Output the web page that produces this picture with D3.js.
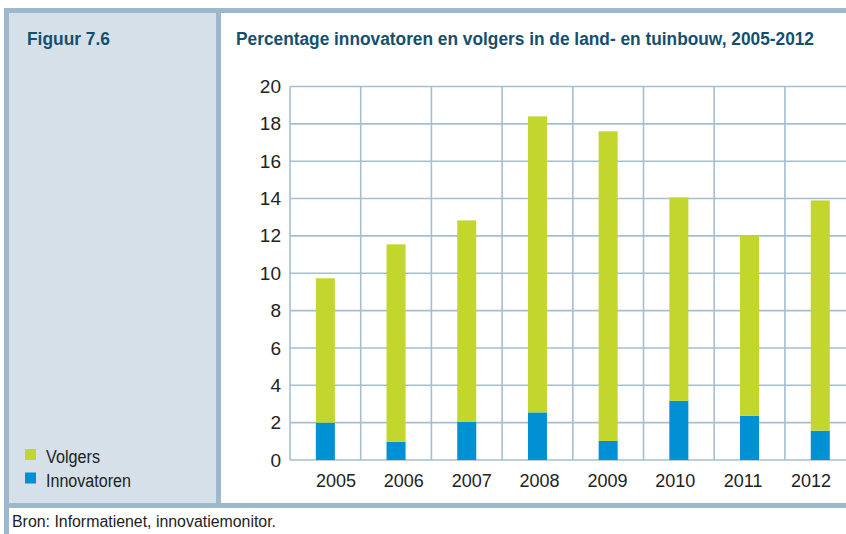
<!DOCTYPE html>
<html><head><meta charset="utf-8">
<script src="https://cdn.jsdelivr.net/npm/d3@7"></script>
<style>body{margin:0;background:#fff;}svg{display:block;}</style>
</head><body>
<script>
const years = ["2005","2006","2007","2008","2009","2010","2011","2012"];
const innovatoren = [2.0, 0.98, 2.05, 2.55, 1.02, 3.17, 2.37, 1.57];
const volgers = [7.73, 10.57, 10.78, 15.85, 16.58, 10.89, 9.63, 12.33];
const yTicks = [0,2,4,6,8,10,12,14,16,18,20];
const seriesNames = ["Volgers","Innovatoren"];
const seriesColors = ["#c3d62e","#0090d4"];

const W = 846, H = 534;
const svg = d3.select("body").append("svg").attr("width", W).attr("height", H);
const frame = "#9db7cc";
const fontN = "'Liberation Sans',Arial,sans-serif";

// frame and panels
svg.append("rect").attr("x",4).attr("y",8).attr("width",W-4).attr("height",H-8).attr("fill",frame);
svg.append("rect").attr("x",9).attr("y",13).attr("width",207).attr("height",490).attr("fill","#d6e0e9");
svg.append("rect").attr("x",221).attr("y",13).attr("width",W-221).attr("height",490).attr("fill","#fff");
svg.append("rect").attr("x",9).attr("y",508).attr("width",W-9).attr("height",H-508).attr("fill","#fff");

svg.append("text").attr("x",27).attr("y",45).attr("fill","#13506f")
  .attr("font-family",fontN).attr("font-weight","bold").attr("font-size",19)
  .attr("textLength",83).attr("lengthAdjust","spacingAndGlyphs").text("Figuur 7.6");
svg.append("text").attr("x",236).attr("y",45).attr("fill","#13506f")
  .attr("font-family",fontN).attr("font-weight","bold").attr("font-size",18)
  .attr("textLength",578).attr("lengthAdjust","spacingAndGlyphs")
  .text("Percentage innovatoren en volgers in de land- en tuinbouw, 2005-2012");
svg.append("text").attr("x",12).attr("y",527).attr("fill","#222")
  .attr("font-family",fontN).attr("font-size",16)
  .attr("textLength",264).attr("lengthAdjust","spacingAndGlyphs").text("Bron: Informatienet, innovatiemonitor.");

// scales
const x0 = 290, x1 = 290 + 8*70.7;
const y = d3.scaleLinear().domain([0,20]).range([460, 86.5]);
const xg = d3.scaleBand().domain(years).range([x0, x1]).padding(0);
const x = d3.scaleBand().domain(years).range([x0, x1]).paddingInner(0.731).paddingOuter(0.3655);
const xl = d3.scalePoint().domain(years).range([335.5, 810.5]);

const plot = svg.append("g");
svg.append("clipPath").attr("id","c").append("rect").attr("x",221).attr("y",13).attr("width",W-221).attr("height",490);
plot.attr("clip-path","url(#c)");

const grid = "#a6bed1";
plot.selectAll(".hg").data(yTicks).join("line")
  .attr("x1",x0).attr("x2",x1).attr("y1",d=>y(d)).attr("y2",d=>y(d))
  .attr("stroke",grid).attr("stroke-width",1.6);
plot.selectAll(".vg").data(years.concat(["end"])).join("line")
  .attr("x1",(d,i)=>x0 + i*xg.step()).attr("x2",(d,i)=>x0 + i*xg.step())
  .attr("y1",y(20)).attr("y2",y(0))
  .attr("stroke",grid).attr("stroke-width",1.6);

// bars
const stacked = years.map((yr,i)=>({yr, inn: innovatoren[i], vol: volgers[i]}));
plot.selectAll(".bi").data(stacked).join("rect")
  .attr("x",d=>x(d.yr)).attr("width",x.bandwidth())
  .attr("y",d=>y(d.inn)).attr("height",d=>y(0)-y(d.inn))
  .attr("fill",seriesColors[1]);
plot.selectAll(".bv").data(stacked).join("rect")
  .attr("x",d=>x(d.yr)).attr("width",x.bandwidth())
  .attr("y",d=>y(d.inn+d.vol)).attr("height",d=>y(d.inn)-y(d.inn+d.vol))
  .attr("fill",seriesColors[0]);

// axes labels
const yAxis = d3.axisLeft(y).tickValues(yTicks).tickSize(0).tickPadding(0);
const ya = svg.append("g").attr("transform","translate(281,0)").call(yAxis);
ya.select(".domain").remove();
ya.selectAll("text").attr("font-family",fontN).attr("font-size",19).attr("fill","#222");

const xAxis = d3.axisBottom(xl).tickSize(0).tickPadding(0);
const xa = svg.append("g").attr("transform","translate(0,474)").call(xAxis);
xa.select(".domain").remove();
xa.selectAll("text").attr("font-family",fontN).attr("font-size",18).attr("fill","#222").attr("dy","0.71em");

// legend
const lg = svg.append("g");
const legW = [54, 85];
seriesNames.forEach((n,i)=>{
  lg.append("rect").attr("x",25).attr("y",449+i*23.5).attr("width",11).attr("height",11).attr("fill",seriesColors[i]);
  lg.append("text").attr("x",46).attr("y",463+i*23.5).attr("font-family",fontN).attr("font-size",18).attr("fill","#222")
    .attr("textLength",legW[i]).attr("lengthAdjust","spacingAndGlyphs").text(n);
});
</script>
</body></html>
